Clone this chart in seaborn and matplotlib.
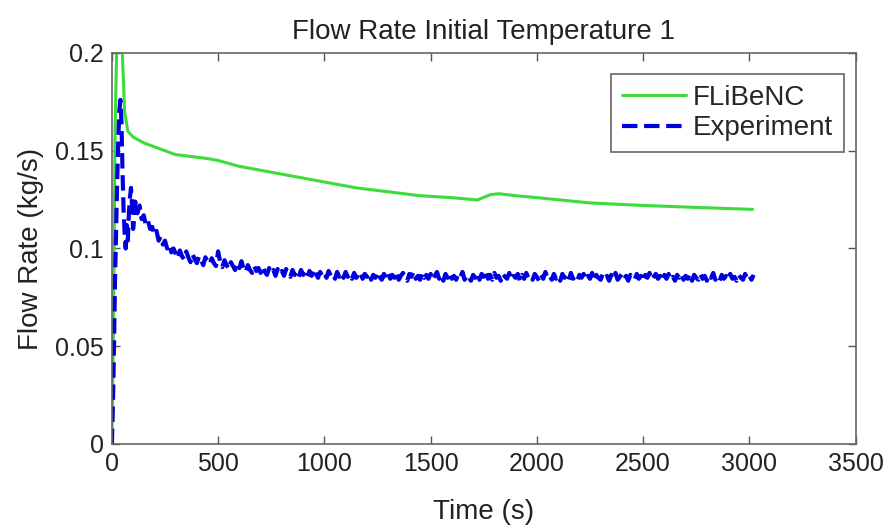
import numpy as np
import pandas as pd
import matplotlib
matplotlib.use("Agg")
import matplotlib.pyplot as plt
import seaborn as sns

# model curve (FLiBeNC)
time_model = [0, 8, 15, 25, 45, 60, 75, 100, 150, 200, 300, 450, 500, 600, 700,
              850, 1000, 1150, 1300, 1450, 1600, 1720, 1780, 1820, 1900, 2000,
              2250, 2500, 2750, 3015]
flow_model = [0.0, 0.06, 0.16, 0.215, 0.212, 0.17, 0.160, 0.157, 0.154, 0.152,
              0.148, 0.146, 0.145, 0.142, 0.140, 0.137, 0.134, 0.131, 0.129,
              0.127, 0.126, 0.1248, 0.1275, 0.128, 0.127, 0.126, 0.1233, 0.122,
              0.121, 0.120]

# experiment
time_exp = [0, 5, 10, 15, 20, 25, 30, 35, 40, 45, 50, 55, 60, 65, 70, 75, 80, 85,
            90, 95, 100, 105, 110, 115,
            120, 130, 140, 150, 160, 170, 180, 190, 200, 210, 220, 230, 240, 250, 260, 270, 280, 290,
            300, 310, 320, 330, 340, 350, 360, 370, 380, 390, 400, 410, 420, 430, 440, 450, 460, 470, 480, 490,
            500, 510, 520, 530, 540, 550, 560, 570, 580, 590, 600, 610, 620, 630, 640, 650, 660, 670, 680, 690,
            700, 710, 720, 730, 740, 750, 760, 770, 780, 790, 800, 810, 820, 830, 840, 850, 860, 870, 880, 890,
            900, 910, 920, 930, 940, 950, 960, 970, 980, 990, 1000, 1010, 1020, 1030, 1040, 1050, 1060, 1070, 1080, 1090,
            1100, 1110, 1120, 1130, 1140, 1150, 1160, 1170, 1180, 1190, 1200, 1210, 1220, 1230, 1240, 1250, 1260, 1270, 1280, 1290,
            1300, 1310, 1320, 1330, 1340, 1350, 1360, 1370, 1380, 1390, 1400, 1410, 1420, 1430, 1440, 1450, 1460, 1470, 1480, 1490,
            1500, 1510, 1520, 1530, 1540, 1550, 1560, 1570, 1580, 1590, 1600, 1610, 1620, 1630, 1640, 1650, 1660, 1670, 1680, 1690,
            1700, 1710, 1720, 1730, 1740, 1750, 1760, 1770, 1780, 1790, 1800, 1810, 1820, 1830, 1840, 1850, 1860, 1870, 1880, 1890,
            1900, 1910, 1920, 1930, 1940, 1950, 1960, 1970, 1980, 1990, 2000, 2010, 2020, 2030, 2040, 2050, 2060, 2070, 2080, 2090,
            2100, 2110, 2120, 2130, 2140, 2150, 2160, 2170, 2180, 2190, 2200, 2210, 2220, 2230, 2240, 2250, 2260, 2270, 2280, 2290,
            2300, 2310, 2320, 2330, 2340, 2350, 2360, 2370, 2380, 2390, 2400, 2410, 2420, 2430, 2440, 2450, 2460, 2470, 2480, 2490,
            2500, 2510, 2520, 2530, 2540, 2550, 2560, 2570, 2580, 2590, 2600, 2610, 2620, 2630, 2640, 2650, 2660, 2670, 2680, 2690,
            2700, 2710, 2720, 2730, 2740, 2750, 2760, 2770, 2780, 2790, 2800, 2810, 2820, 2830, 2840, 2850, 2860, 2870, 2880, 2890,
            2900, 2910, 2920, 2930, 2940, 2950, 2960, 2970, 2980, 2990, 3000, 3010, 3020]
flow_exp = [0.000, 0.020, 0.050, 0.085, 0.110, 0.135, 0.155, 0.170, 0.176, 0.165,
            0.140, 0.120, 0.108, 0.100, 0.112, 0.104, 0.118, 0.126, 0.131, 0.122,
            0.110, 0.115, 0.124, 0.121,
            0.118, 0.122, 0.115, 0.117, 0.112, 0.114, 0.110, 0.111, 0.107, 0.109,
            0.104, 0.106, 0.102, 0.104, 0.100, 0.102, 0.098, 0.100,
            0.0975, 0.0950, 0.0990, 0.0960, 0.0945, 0.0985, 0.0955, 0.0930, 0.0970, 0.0945,
            0.0925, 0.0960, 0.0940, 0.0915, 0.0955, 0.0935, 0.0920, 0.0950, 0.0925, 0.0910,
            0.0985, 0.0930, 0.0905, 0.0940, 0.0915, 0.0895, 0.0930, 0.0910, 0.0890, 0.0925,
            0.0900, 0.0935, 0.0895, 0.0880, 0.0915, 0.0890, 0.0875, 0.0910, 0.0885, 0.0900,
            0.0875, 0.0905, 0.0880, 0.0865, 0.0900, 0.0875, 0.0890, 0.0860, 0.0895, 0.0870,
            0.0885, 0.0860, 0.0895, 0.0870, 0.0855, 0.0890, 0.0865, 0.0880, 0.0855, 0.0890,
            0.0865, 0.0880, 0.0855, 0.0885, 0.0860, 0.0895, 0.0870, 0.0850, 0.0880, 0.0860,
            0.0875, 0.0850, 0.0885, 0.0860, 0.0870, 0.0845, 0.0880, 0.0855, 0.0875, 0.0850,
            0.0880, 0.0855, 0.0870, 0.0845, 0.0875, 0.0850, 0.0865, 0.0880, 0.0845, 0.0870,
            0.0855, 0.0875, 0.0840, 0.0865, 0.0850, 0.0880, 0.0855, 0.0840, 0.0870, 0.0850,
            0.0875, 0.0845, 0.0865, 0.0850, 0.0880, 0.0840, 0.0860, 0.0875, 0.0850, 0.0835,
            0.0870, 0.0855, 0.0880, 0.0845, 0.0860, 0.0840, 0.0875, 0.0850, 0.0865, 0.0845,
            0.0870, 0.0840, 0.0860, 0.0880, 0.0845, 0.0865, 0.0835, 0.0870, 0.0850, 0.0875,
            0.0845, 0.0860, 0.0840, 0.0870, 0.0855, 0.0880, 0.0840, 0.0865, 0.0850, 0.0835,
            0.0865, 0.0850, 0.0875, 0.0840, 0.0870, 0.0855, 0.0885, 0.0845, 0.0865, 0.0840,
            0.0875, 0.0850, 0.0860, 0.0835, 0.0870, 0.0855, 0.0845, 0.0875, 0.0840, 0.0860,
            0.0850, 0.0870, 0.0835, 0.0865, 0.0845, 0.0875, 0.0850, 0.0860, 0.0840, 0.0870,
            0.0855, 0.0835, 0.0865, 0.0845, 0.0880, 0.0850, 0.0860, 0.0840, 0.0870, 0.0845,
            0.0860, 0.0835, 0.0870, 0.0850, 0.0865, 0.0840, 0.0875, 0.0845, 0.0855, 0.0835,
            0.0865, 0.0850, 0.0870, 0.0840, 0.0860, 0.0845, 0.0875, 0.0835, 0.0865, 0.0850,
            0.0840, 0.0870, 0.0850, 0.0860, 0.0835, 0.0865, 0.0845, 0.0875, 0.0840, 0.0855,
            0.0870, 0.0845, 0.0860, 0.0835, 0.0865, 0.0850, 0.0840, 0.0870, 0.0845, 0.0860,
            0.0835, 0.0865, 0.0850, 0.0875, 0.0840, 0.0855, 0.0870, 0.0845, 0.0860, 0.0835,
            0.0865, 0.0845, 0.0870, 0.0840, 0.0855, 0.0835, 0.0865, 0.0850, 0.0870, 0.0840,
            0.0860, 0.0845, 0.0870, 0.0835, 0.0865, 0.0850, 0.0840, 0.0870, 0.0845, 0.0860,
            0.0835, 0.0865, 0.0850, 0.0875, 0.0840, 0.0855, 0.0835, 0.0865, 0.0845, 0.0860,
            0.0840, 0.0870, 0.0845, 0.0855, 0.0835, 0.0865, 0.0850, 0.0840, 0.0870, 0.0845,
            0.0860, 0.0840, 0.0865]

x_ticks = [0, 500, 1000, 1500, 2000, 2500, 3000, 3500]
y_ticks = [0, 0.05, 0.1, 0.15, 0.2]
y_tick_labels = ['0', '0.05', '0.1', '0.15', '0.2']

sns.set_style("ticks")
plt.rcParams['font.family'] = ['Liberation Sans', 'DejaVu Sans']
plt.rcParams['xtick.direction'] = 'in'
plt.rcParams['ytick.direction'] = 'in'

fig = plt.figure(figsize=(8.95, 5.27), dpi=100)
ax = fig.add_axes([0.125, 0.1575, 0.831, 0.742])

sns.lineplot(x=time_model, y=flow_model, ax=ax, color='#3ddc3d', lw=2.2,
             label='FLiBeNC', sort=False)
sns.lineplot(x=time_exp, y=flow_exp, ax=ax, color='#0000dd', lw=3.0,
             linestyle='--', dashes=(3, 2), label='Experiment', sort=False)

ax.set_xlim(0, 3500)
ax.set_ylim(0, 0.2)
ax.set_xticks(x_ticks)
ax.set_yticks(y_ticks)
ax.set_yticklabels(y_tick_labels)
ax.tick_params(axis='both', which='both', top=True, right=True, length=6,
               width=1, color='#555555', labelsize=18, labelcolor='#222222', pad=6)
for s in ax.spines.values():
    s.set_color('#666666')
    s.set_linewidth(1.2)

ax.set_xlabel('Time (s)', fontsize=20, color='#222222', labelpad=16)
ax.set_ylabel('Flow Rate (kg/s)', fontsize=20, color='#222222', labelpad=8)
ax.set_title('Flow Rate Initial Temperature 1', fontsize=20, color='#222222', pad=10)

leg = ax.legend(loc='upper right', bbox_to_anchor=(0.985, 0.946), borderaxespad=0,
                fontsize=20, handlelength=2.3, handletextpad=0.25, fancybox=False,
                framealpha=1, edgecolor='#666666', borderpad=0.4, labelspacing=0.15)
leg.get_frame().set_linewidth(1.2)

fig.savefig('out.png', dpi=100)
